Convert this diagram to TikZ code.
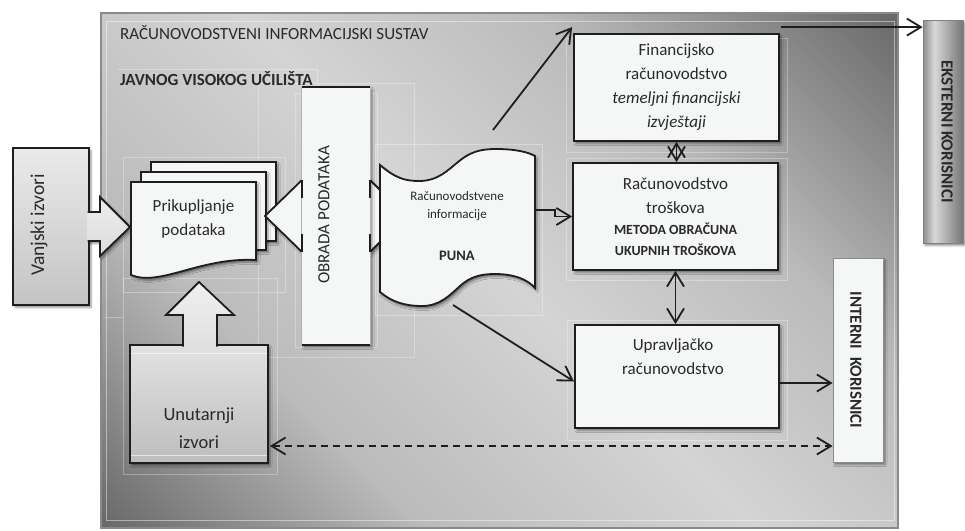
\documentclass[tikz,border=0pt]{standalone}
\usepackage{fontspec}
\setmainfont{Carlito}
\usetikzlibrary{arrows.meta,shadows.blur,calc}

% palette
\definecolor{panelDark}{HTML}{6A6A6A}
\definecolor{panelMid}{HTML}{BBBBBB}
\definecolor{panelLight}{HTML}{D4D4D4}
\definecolor{paper}{HTML}{F5F6F6}
\definecolor{ink}{HTML}{1E1E1E}
\definecolor{txt}{HTML}{2A2A2A}
\definecolor{frameGray}{HTML}{8A8A8A}
\definecolor{extA}{HTML}{8E8E8E}
\definecolor{extB}{HTML}{D8D8D8}
\definecolor{extC}{HTML}{767676}
\definecolor{srcTop}{HTML}{EAEAEA}
\definecolor{srcBot}{HTML}{C4C4C4}
\definecolor{inTop}{HTML}{E2E2E2}
\definecolor{inBot}{HTML}{BDBDBD}

% diagonal panel shading: dark corners bottom-left / top-right, light band between
\pgfdeclarehorizontalshading{panelshade}{100bp}{%
  color(0bp)=(panelDark); color(15bp)=(panelDark); color(32bp)=(panelMid);
  color(50bp)=(panelLight); color(66bp)=(panelMid); color(85bp)=(panelDark);
  color(100bp)=(panelDark)}
% side bar shading of the external users box
\pgfdeclarehorizontalshading{extshade}{100bp}{%
  color(0bp)=(extA); color(25bp)=(extA); color(39bp)=(extB);
  color(75bp)=(extC); color(100bp)=(extC)}

\tikzset{
  shadowed/.style={blur shadow={shadow xshift=2pt,shadow yshift=-2.5pt,shadow blur radius=2pt,shadow opacity=45}},
  wbox/.style={draw=ink, line width=1.8pt, fill=paper, shadowed, inner sep=0pt},
  wshape/.style={draw=ink, line width=1.8pt, fill=paper, shadowed, line join=miter},
  graybox/.style 2 args={draw=ink, line width=1.8pt, top color=#1, bottom color=#2, shadowed, inner sep=0pt},
  lbl/.style={font=\fontsize{17}{24}\selectfont, text=txt, align=center, inner sep=0pt},
  title/.style={font=\fontsize{17}{20}\selectfont, text=txt, inner sep=0pt},
  ghost/.style={draw=white, draw opacity=0.3, line width=0.7pt},
  conn/.style={draw=ink, line width=1.8pt},
  barb/.style={-{Straight Barb[length=14pt,width=17pt]}},
  barbs/.style={{Straight Barb[length=14pt,width=17pt]}-{Straight Barb[length=14pt,width=17pt]}},
}

\begin{document}
\begin{tikzpicture}[x=1pt,y=-1pt]
\useasboundingbox (0,0) rectangle (965,530);

% ---- system panel ----
\path[shading=panelshade, shading angle=45] (101,13) rectangle (898,528);
\draw[frameGray, line width=2pt] (101,13) rectangle (898,528);
\draw[white, draw opacity=0.45, line width=0.8pt] (106,21) rectangle (894,520);

% faint frames of the layout groups
\draw[ghost] (118,69) -- (317,69) -- (317,100);
\draw[ghost] (258,83) rectangle (414,357);
\draw[ghost] (295,93) rectangle (377,347);
\draw[ghost] (123,157) rectangle (285,292);
\draw[ghost] (123,278) rectangle (277,474);
\draw[ghost] (105,317) -- (123,317);
\draw[ghost] (375,144) rectangle (542,315);
\draw[ghost] (566,38) rectangle (787,152);
\draw[ghost] (566,158) rectangle (787,280);
\draw[ghost] (567,320) rectangle (787,440);

\node[title, anchor=base west] (sys) at (120,39) {RAČUNOVODSTVENI INFORMACIJSKI SUSTAV};
\node[title, anchor=base west, font=\fontsize{17}{20}\selectfont\bfseries] (inst) at (120,85) {JAVNOG VISOKOG UČILIŠTA};

% ---- external sources ----
\node[graybox={srcTop}{srcBot}, minimum width=76pt, minimum height=157pt] (vanj) at (51,226.5) {};
\node[lbl, rotate=90, font=\fontsize{19.5}{24}\selectfont] (vanjt) at (39,225) {Vanjski izvori};
\draw[draw=ink, line width=1.8pt, top color=black!7, bottom color=black!14, shadowed]
  (87.5,212) -- (100,212) -- (100,197) -- (130,227) -- (100,256) -- (100,241) -- (87.5,241);

% ---- data collection (stack of pages) ----
\draw[wshape] (151,162) rectangle (276,241);
\draw[wshape] (141,172) rectangle (266,250);
\draw[wshape] (131,182) -- (256,182) -- (256,260)
  .. controls (200,257) and (160,287) .. (131,275) -- cycle;
\node[lbl] (prik) at (193.5,219) {Prikupljanje\\podataka};

% ---- internal sources ----
\node[graybox={inTop}{inBot}, minimum width=138pt, minimum height=118pt] (unu) at (199,404) {};
\draw[white, draw opacity=0.6, line width=0.8pt] (131,353) -- (267,353) (131,455) -- (267,455);
\node[lbl, font=\fontsize{18.5}{28}\selectfont] (unut) at (199,428) {Unutarnji\\izvori};
\draw[draw=ink, line width=1.8pt, top color=black!6, bottom color=black!12]
  (183,346.5) -- (183,315) -- (166,315) -- (199,282) -- (234,315) -- (217,315) -- (217,346.5);

% ---- data processing with two-way block arrow ----
\draw[wshape] (265,216) -- (302,180) -- (302,198) -- (370,198) -- (370,180) -- (406,216)
  -- (370,252) -- (370,234) -- (302,234) -- (302,252) -- cycle;
\node[fill=paper, shadowed, minimum width=68pt, minimum height=258pt, inner sep=0pt] (obr) at (336,216) {};
\draw[black!30, line width=0.8pt] (obr.north west) -- (obr.south west) (obr.north east) -- (obr.south east);
\draw[ink, line width=1.8pt] (obr.north west) -- (obr.north east) (obr.south west) -- (obr.south east);
\draw[ink, line width=1.8pt] (302,180) -- (302,198) (302,234) -- (302,252)
  (370,180) -- (370,198) (370,234) -- (370,252);
\node[lbl, rotate=90] (obrt) at (324,215) {OBRADA PODATAKA};

% ---- accounting information (punched tape) ----
\draw[wshape] (380,165) .. controls (395,178) and (405,181) .. (419,181)
  .. controls (438,181) and (448,170) .. (458,162)
  .. controls (470,152) and (480,149) .. (496,149)
  .. controls (515,149) and (528,152) .. (535,156)
  -- (535,288) .. controls (528,280) and (515,274) .. (495,274)
  .. controls (480,274) and (470,277) .. (460,286)
  .. controls (450,295) and (440,306) .. (422,306)
  .. controls (405,306) and (392,302) .. (380,292) -- cycle;
\node[lbl, font=\fontsize{13}{18}\selectfont] (info) at (457,206) {Računovodstvene\\informacije};
\node[lbl, font=\fontsize{14.5}{18}\selectfont\bfseries] (puna) at (457,256) {PUNA};
\coordinate (punaTop) at (493,130);
\coordinate (punaRight) at (535,210);
\coordinate (punaBottom) at (453,305);

% ---- accounting branches ----
\node[wbox, lbl, minimum width=205pt, minimum height=107pt] (fin) at (676.5,87.5)
  {Financijsko\\računovodstvo\\\textit{temeljni financijski}\\\textit{izvještaji}};
\node[wbox, lbl, minimum width=205pt, minimum height=107pt] (rt) at (675.5,216.5)
  {Računovodstvo\\troškova\\[-3pt]{\fontsize{14}{21}\selectfont\bfseries METODA OBRAČUNA}\\[-3pt]{\fontsize{14}{21}\selectfont\bfseries UKUPNIH TROŠKOVA}};
\node[wbox, minimum width=204pt, minimum height=103pt] (upr) at (677,376.5) {};
\node[lbl] (uprt) at (673,357) {Upravljačko\\računovodstvo};

% ---- users ----
\node[draw=black!45, line width=0.8pt, fill=paper, shadowed, minimum width=50pt, minimum height=204pt, inner sep=0pt] (int) at (858,360) {};
\node[lbl, rotate=-90, font=\fontsize{17}{20}\selectfont\bfseries] (intt) at (856,360) {INTERNI\ \ KORISNICI};
\node[draw=black!50, line width=0.8pt, shading=extshade, shadowed, minimum width=40pt, minimum height=223pt, inner sep=0pt] (ext) at (943,131.5) {};
\node[lbl, rotate=-90, font=\fontsize{17}{20}\selectfont\bfseries] (extt) at (947,131.5) {EKSTERNI KORISNICI};

% ---- connectors ----
\coordinate (finIn) at ($(fin.north west)+(-1,-6)$);
\coordinate (finOut) at ($(fin.north east)+(1,-6)$);
\coordinate (uprIn) at ($(upr.west)+(0,5)$);
\coordinate (uprOut) at ($(upr.east)+(0,6.5)$);
\coordinate (unuOut) at ($(unu.east)+(1,42)$);

\draw[conn, barb] (punaTop) -- (finIn);
\draw[conn, barb] (finOut) -- (finOut -| ext.west);
\draw[conn, barbs] (fin.south) -- (fin.south |- rt.north);
\draw[conn, barb] (punaRight) -- ++(20,0) |- (rt.west);
\draw[conn, barb] (punaBottom) -- (uprIn);
\draw[conn, barbs] (rt.south) -- (rt.south |- upr.north);
\draw[conn, barb] (uprOut) -- (uprOut -| int.west);
\draw[conn, barbs, dash pattern=on 7pt off 5pt] (unuOut) -- (unuOut -| int.west);
\end{tikzpicture}
\end{document}
